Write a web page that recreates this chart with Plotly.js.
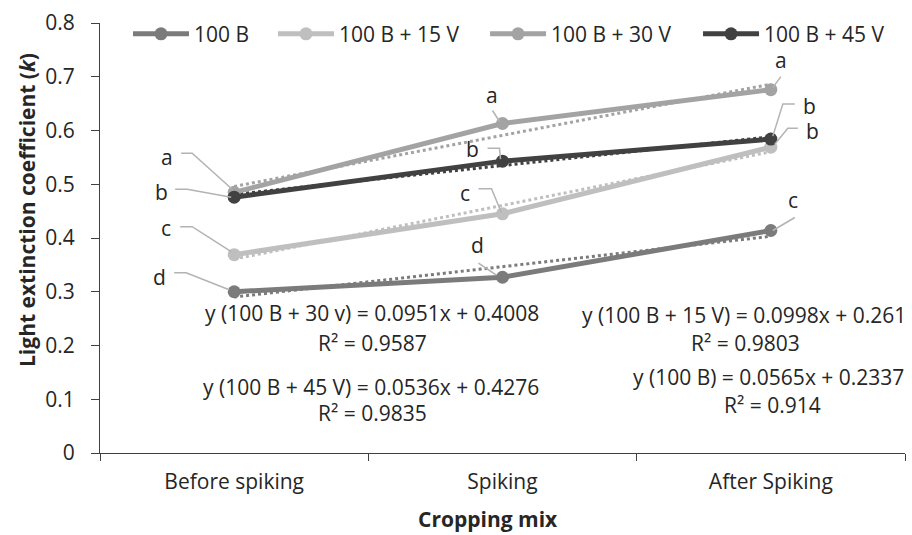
<!DOCTYPE html>
<html>
<head>
<meta charset="utf-8">
<script src="https://cdn.plot.ly/plotly-3.0.1.min.js"></script>
<style>html,body{margin:0;padding:0;background:#fff;}#chart{width:912px;height:535px;}</style>
</head>
<body>
<div id="chart"></div>
<script>
// ---- data ----
const categories = ['Before spiking', 'Spiking', 'After Spiking'];
const seriesNames = ['100 B', '100 B + 15 V', '100 B + 30 V', '100 B + 45 V'];
const k100B = [0.300, 0.327, 0.414];
const k15V = [0.369, 0.445, 0.569];
const k30V = [0.485, 0.613, 0.676];
const k45V = [0.476, 0.543, 0.584];
// regression lines (as printed on the chart), x = 1,2,3
const trendSlopes = [0.0565, 0.0998, 0.0951, 0.0536];
const trendIntercepts = [0.2337, 0.261, 0.4008, 0.4276];
const equationTexts = [
  'y (100 B) = 0.0565x + 0.2337',
  'y (100 B + 15 V) = 0.0998x + 0.261',
  'y (100 B + 30 v) = 0.0951x + 0.4008',
  'y (100 B + 45 V) = 0.0536x + 0.4276'
];
const r2Texts = ['R² = 0.914', 'R² = 0.9803', 'R² = 0.9587', 'R² = 0.9835'];
// significance letters per series, per category
const letters100B = ['d', 'd', 'c'];
const letters15V = ['c', 'c', 'b'];
const letters30V = ['a', 'a', 'a'];
const letters45V = ['b', 'b', 'b'];
const xTitle = 'Cropping mix';
const yTitle = 'Light extinction coefficient (<i>k</i>)';

// ---- style ----
const values = [k100B, k15V, k30V, k45V];
const letters = [letters100B, letters15V, letters30V, letters45V];
const colors = ['#7b7b7b', '#bfbfbf', '#a3a3a3', '#414141'];
const FONT = 'Open Sans, sans-serif';
const FS = 21;
const TXT = '#262626';
const LEADER = '#b3b3b3';

// label placement (screen px relative to point: right +, down +)
const labelLayout = [
  [[-75, -15, [[-60, -19], [-48, -19], [-5, -2]]],
   [-25, -32, [[-24, -14], [-6, -2]]],
   [22, -30, [[24, -13], [2, 0]]]],
  [[-68, -27, [[-54, -28], [-42, -28], [-3, -3]]],
   [-38, -21, [[-24, -25], [-11, -25], [-1, -1]]],
   [42, -16, [[27, -19], [17, -19], [4, -3]]]],
  [[-67, -35, [[-53, -39], [-42, -39], [-2, -3]]],
   [-11, -29, [[-10, -13], [-3, -2]]],
   [10, -30, [[10, -13], [2, -2]]]],
  [[-73, -5, [[-59, -8], [-47, -8], [-3, 0]]],
   [-30, -12, [[-15, -13], [-3, -13], [-2, -2]]],
   [39, -33, [[24, -35], [12, -35], [2, -3]]]]
];

const legendIds = ['legend', 'legend2', 'legend3', 'legend4'];
const legendX = [0.0348, 0.2149, 0.4783, 0.7429];

const traces = [];
for (let s = 0; s < 4; s++) {
  traces.push({
    x: categories,
    y: categories.map((c, i) => trendSlopes[s] * (i + 1) + trendIntercepts[s]),
    type: 'scatter', mode: 'lines',
    line: {color: colors[s], width: 3, dash: 'dot'},
    showlegend: false, hoverinfo: 'skip'
  });
}
for (let s = 0; s < 4; s++) {
  traces.push({
    x: categories, y: values[s], name: seriesNames[s],
    type: 'scatter', mode: 'lines+markers',
    line: {color: colors[s], width: 5},
    marker: {color: colors[s], size: 13},
    legend: legendIds[s]
  });
}

const annotations = [];
const shapes = [];
for (let s = 0; s < 4; s++) {
  for (let i = 0; i < 3; i++) {
    const L = labelLayout[s][i];
    annotations.push({
      x: i, y: values[s][i], xref: 'x', yref: 'y',
      xanchor: 'center', yanchor: 'middle',
      text: letters[s][i], showarrow: false,
      xshift: L[0], yshift: -L[1],
      font: {family: FONT, size: FS, color: TXT}
    });
    const pts = L[2];
    const path = pts.map((p, j) => (j === 0 ? 'M' : 'L') + p[0] + ',' + (-p[1])).join(' ');
    shapes.push({
      type: 'path', xref: 'x', yref: 'y',
      xsizemode: 'pixel', ysizemode: 'pixel',
      xanchor: i, yanchor: values[s][i],
      path: path,
      line: {color: LEADER, width: 1.5}
    });
  }
}

// equation text positions (paper coords)
const eqPos = [
  [0.831, 0.177, 0.836, 0.112],
  [0.800, 0.321, 0.802, 0.256],
  [0.338, 0.326, 0.338, 0.256],
  [0.337, 0.153, 0.338, 0.093]
];
for (let s = 0; s < 4; s++) {
  const p = eqPos[s];
  annotations.push({x: p[0], y: p[1], xref: 'paper', yref: 'paper', xanchor: 'center', yanchor: 'middle',
    text: equationTexts[s], showarrow: false, font: {family: FONT, size: FS, color: TXT}});
  annotations.push({x: p[2], y: p[3], xref: 'paper', yref: 'paper', xanchor: 'center', yanchor: 'middle',
    text: r2Texts[s], showarrow: false, font: {family: FONT, size: FS, color: TXT}});
}
annotations.push({x: (488 - 100) / 805, y: (453 - 519) / 430, xref: 'paper', yref: 'paper',
  xanchor: 'center', yanchor: 'middle',
  text: '<b>' + xTitle + '</b>', showarrow: false, font: {family: FONT, size: FS, color: TXT}});
annotations.push({x: (27 - 100) / 805, y: (453 - 210) / 430, xref: 'paper', yref: 'paper',
  xanchor: 'center', yanchor: 'middle',
  text: '<b>' + yTitle + '</b>', textangle: -90, showarrow: false,
  font: {family: FONT, size: FS, color: TXT}});

const layout = {
  width: 912, height: 535,
  margin: {l: 100, r: 7, t: 23, b: 82},
  paper_bgcolor: '#fff', plot_bgcolor: '#fff',
  font: {family: FONT, size: FS, color: TXT},
  showlegend: true,
  xaxis: {
    type: 'category', range: [-0.5, 2.5], tickson: 'boundaries',
    showline: true, linecolor: '#404040', linewidth: 1,
    ticks: 'outside', ticklen: 7, tickcolor: '#404040',
    showgrid: false, zeroline: false, ticklabelstandoff: 10,
    tickfont: {family: FONT, size: FS, color: TXT}
  },
  yaxis: {
    range: [0, 0.8], dtick: 0.1, tick0: 0,
    showline: true, linecolor: '#404040', linewidth: 1,
    ticks: 'outside', ticklen: 8, tickcolor: '#404040',
    showgrid: false, zeroline: false, ticklabelstandoff: 12,
    tickfont: {family: FONT, size: FS, color: TXT}
  },
  annotations: annotations,
  shapes: shapes
};
for (let s = 0; s < 4; s++) {
  layout[legendIds[s]] = {
    orientation: 'h', x: legendX[s], y: 0.974, xanchor: 'left', yanchor: 'middle',
    font: {family: FONT, size: FS, color: TXT}, itemwidth: 56, bgcolor: 'rgba(0,0,0,0)'
  };
}

Plotly.newPlot('chart', traces, layout, {staticPlot: true});
</script>
</body>
</html>
